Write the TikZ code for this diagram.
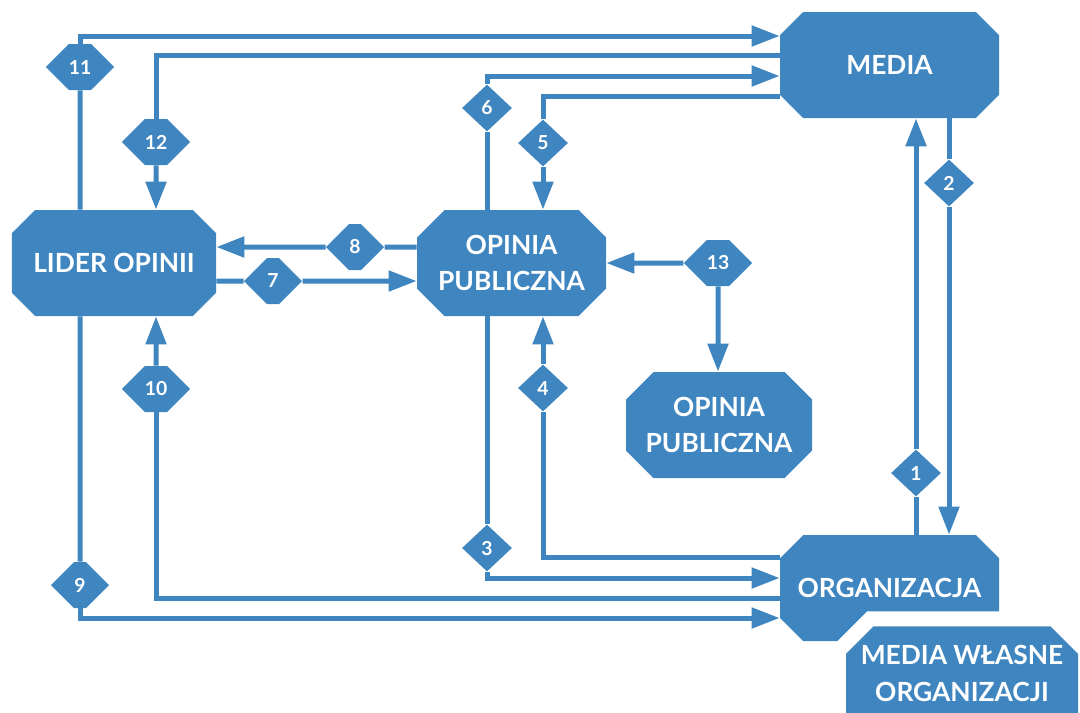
\documentclass[tikz,border=0pt]{standalone}
\usepackage{fontspec}
\setmainfont{Lato}
\usetikzlibrary{%
  calc,arrows.meta,%
  shapes.misc,shapes.geometric,shapes.symbols}
\definecolor{flow}{HTML}{3F86C1}
\tikzset {>={Triangle[length=5.6mm,width=4mm]}}
\tikzset{
  box/.style={chamfered rectangle,chamfered rectangle xsep=2.8mm,
    chamfered rectangle ysep=2.7mm,fill=flow,text=white,align=center,
    inner sep=0pt,minimum height=21.2mm,
    font=\fontsize{15}{21}\selectfont\bfseries},
  tagd/.style={diamond,fill=flow,text=white,inner sep=0pt,
    minimum width=10mm,minimum height=9.4mm,
    font=\fontsize{11}{11}\selectfont\bfseries},
  tagh/.style={signal,signal to=east and west,fill=flow,text=white,
    inner sep=0pt,minimum width=11.6mm,minimum height=9.2mm,
    font=\fontsize{11}{11}\selectfont\bfseries},
  flowline/.style={draw=flow,line width=1mm}
}

\begin{document}
\begin{tikzpicture}[x=0.2mm,y=-0.2mm]
\useasboundingbox (0,0) rectangle (1080,712);
\clip (0,0) rectangle (1080,712);
% boxes
\node[box,minimum width=43.8mm] (media) at (889.5,65) {MEDIA};
\node[box,minimum width=40.8mm] (lider) at (114,263) {LIDER OPINII};
\node[box,minimum width=37.8mm] (op) at (511.5,263) {OPINIA\\PUBLICZNA};
\node[box,minimum width=37.2mm] (op2) at (719,425) {OPINIA\\PUBLICZNA};
\node[box,minimum width=43.8mm] (org) at (889.5,588) {ORGANIZACJA};
\node[box,minimum width=46.4mm,minimum height=0pt,anchor=north,
  inner ysep=1mm,text depth=30mm,
  preaction={draw=white,line width=6mm}] (own) at (962,626)
  {MEDIA WŁASNE\\ORGANIZACJI};
% numbered tags
\foreach \n/\x/\y in {1/916/473,2/949/183,3/487/548,
                      4/543/388,5/543/143,6/487/108}
  \node[tagd] (t\n) at (\x,\y) {\n};
\foreach \n/\x/\y in {7/273/281,8/355/247,9/80/585,10/156/389,
                      11/80/67,12/156/142,13/718/263}
  \node[tagh] (t\n) at (\x,\y) {\n};
% connectors
\draw[flowline] (t1) -- (t1 |- org.north);
\draw[flowline,->] (t1) -- (t1 |- media.south);
\draw[flowline] (t2) -- (t2 |- media.south);
\draw[flowline,->] (t2) -- (t2 |- org.north);
\draw[flowline] (t3) -- (t3 |- op.south);
\draw[flowline,->] (t3) |- ($(org.west)+(0,-10)$);
\draw[flowline] (t4) |- ($(org.west)+(0,-31)$);
\draw[flowline,->] (t4) -- (t4 |- op.south);
\draw[flowline] (t5) |- ($(media.west)+(0,31)$);
\draw[flowline,->] (t5) -- (t5 |- op.north);
\draw[flowline] (t6) -- (t6 |- op.north);
\draw[flowline,->] (t6) |- ($(media.west)+(0,11)$);
\draw[flowline] (t7) -- (t7 -| lider.east);
\draw[flowline,->] (t7) -- (t7 -| op.west);
\draw[flowline] (t8) -- (t8 -| op.west);
\draw[flowline,->] (t8) -- (t8 -| lider.east);
\draw[flowline] (t9) -- (t9 |- lider.south);
\draw[flowline,->] (t9) |- ($(org.west)+(0,30)$);
\draw[flowline] (t10) |- ($(org.west)+(0,10)$);
\draw[flowline,->] (t10) -- (t10 |- lider.south);
\draw[flowline] (t11) -- (t11 |- lider.north);
\draw[flowline,->] (t11) |- ($(media.west)+(0,-29)$);
\draw[flowline] (t12) |- ($(media.west)+(0,-10)$);
\draw[flowline,->] (t12) -- (t12 |- lider.north);
\draw[flowline,->] (t13) -- (t13 -| op.east);
\draw[flowline,->] (t13) -- (t13 |- op2.north);
\end{tikzpicture}
\end{document}
